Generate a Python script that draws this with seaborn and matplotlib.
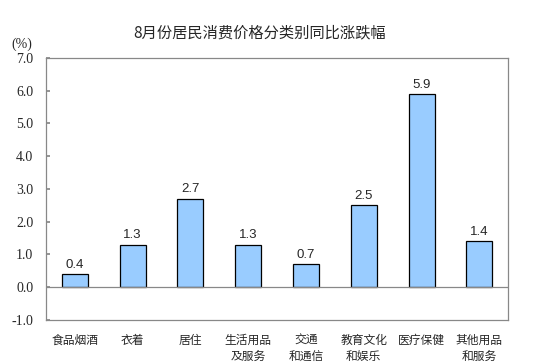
import matplotlib
matplotlib.use("Agg")
import matplotlib.pyplot as plt
import seaborn as sns
import pandas as pd

categories = ["食品烟酒", "衣着", "居住", "生活用品\n及服务", "交通\n和通信", "教育文化\n和娱乐", "医疗保健", "其他用品\n和服务"]
values = [0.4, 1.3, 2.7, 1.3, 0.7, 2.5, 5.9, 1.4]
yticks = [-1.0, 0.0, 1.0, 2.0, 3.0, 4.0, 5.0, 6.0, 7.0]
title = "8月份居民消费价格分类别同比涨跌幅"

sns.set_theme(style="white")
plt.rcParams['font.family'] = ['Noto Sans CJK SC', 'DejaVu Sans']

df = pd.DataFrame({"cat": categories, "val": values})
fig = plt.figure(figsize=(5.39, 3.64), dpi=100)
ax = fig.add_axes([0.085, 0.121, 0.858, 0.72])
sns.barplot(data=df, x="cat", y="val", color="#99CCFF", edgecolor="black",
            linewidth=0.9, width=0.45, saturation=1, ax=ax)
ax.set_ylim(-1.0, 7.0)
ax.set_yticks(yticks)
ax.set_yticklabels([f"{t:.1f}" for t in yticks])
for lbl in ax.get_yticklabels():
    lbl.set_fontfamily("Liberation Serif")
    lbl.set_fontsize(10)
ax.set_xlabel("")
ax.set_ylabel("")
ax.axhline(0, color="#888888", lw=0.9)
for s in ax.spines.values():
    s.set_color("#888888")
    s.set_linewidth(0.9)
ax.tick_params(axis="y", direction="in", length=3, color="#888888", pad=9, left=True)
ax.tick_params(axis="x", length=0, pad=10, labelsize=8.5)
for lbl in ax.get_xticklabels():
    lbl.set_linespacing(1.35)
    lbl.set_verticalalignment("top")
for i, v in enumerate(values):
    ax.text(i, v + 0.1, f"{v:.1f}", ha="center", va="bottom", fontsize=9.5, family="Liberation Sans")
fig.text(0.482, 0.909, title, ha="center", va="center", fontsize=11)
fig.text(0.04, 0.878, "(%)", ha="center", va="center", fontsize=10, family="Liberation Serif")
fig.savefig("out.png", dpi=100, facecolor="white")
